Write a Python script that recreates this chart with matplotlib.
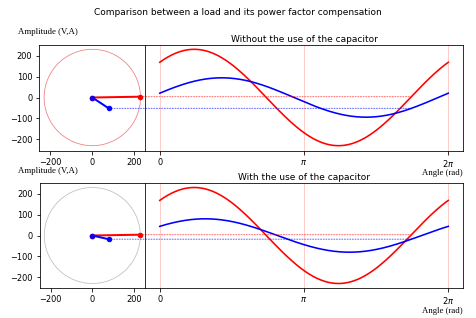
import numpy as np
import matplotlib
matplotlib.use("Agg")
import matplotlib.pyplot as plt
from matplotlib.patches import Circle, ConnectionPatch

# ---- data ----
titles = ["Without the use of the capacitor", "With the use of the capacitor"]
circle_colors = ["lightcoral", "silver"]
voltage_amp = [230, 230]          # V
voltage_phase = [0.82, 0.82]      # rad
current_amp = [94, 80]            # A
current_phase = [0.22, 0.58]      # rad
t_now = 5.48                      # current angle (rad)
xtick_vals = [0, np.pi, 2 * np.pi]
xtick_labels = ["0", r"$\pi$", r"$2\pi$"]
lim = 253

plt.rcParams["font.size"] = 8.3
fig = plt.figure(figsize=(476 / 72, 318 / 72), dpi=72)
fig.suptitle("Comparison between a load and its power factor compensation", fontsize=9, y=0.975)

W, H = 476, 318
rows = [(44.5, 150.5), (182.7, 288.3)]
theta = np.linspace(0, 2 * np.pi, 400)
serif = "Liberation Serif"

for r, (ytop, ybot) in enumerate(rows):
    b = 1 - ybot / H
    h = (ybot - ytop) / H
    axl = fig.add_axes([39.3 / W, b, (145.3 - 39.3) / W, h])
    axr = fig.add_axes([145.3 / W, b, (462.7 - 145.3) / W, h], sharey=axl)

    Va, Vp = voltage_amp[r], voltage_phase[r]
    Ia, Ip = current_amp[r], current_phase[r]

    # phasor diagram
    axl.add_patch(Circle((0, 0), Va, fill=False, color=circle_colors[r], lw=0.8))
    vx, vy = Va * np.cos(t_now + Vp), Va * np.sin(t_now + Vp)
    ix, iy = Ia * np.cos(t_now + Ip), Ia * np.sin(t_now + Ip)
    axl.plot([0, vx], [0, vy], color="red", lw=2, marker="o", ms=4.5)
    axl.plot([0, ix], [0, iy], color="blue", lw=2, marker="o", ms=4.5)
    axl.set_xlim(-lim, lim)
    axl.set_ylim(-lim, lim)
    axl.set_aspect("equal", adjustable="box")
    axl.set_xticks([-200, 0, 200])
    axl.set_yticks([-200, -100, 0, 100, 200])
    axl.set_ylabel("Amplitude (V,A)", family=serif, fontsize=8.7, rotation=0, ha="left", va="center")
    axl.yaxis.set_label_coords(-0.2, 1.115)

    # waveforms
    axr.plot(theta, Va * np.sin(theta + Vp), color="red", lw=1.6)
    axr.plot(theta, Ia * np.sin(theta + Ip), color="blue", lw=1.6)
    axr.set_xticks(xtick_vals)
    axr.set_xticklabels(xtick_labels)
    axr.grid(axis="x", color="red", alpha=0.25, lw=0.8)
    axr.tick_params(axis="y", left=False, labelleft=False)
    axr.set_title(titles[r], fontsize=9, pad=3)
    axr.set_xlabel("Angle (rad)", family=serif, fontsize=8.7, loc="right", labelpad=0.5)

    # projection lines
    for (px, py), f, col in [((vx, vy), Va * np.sin(t_now + Vp), "red"),
                             ((ix, iy), Ia * np.sin(t_now + Ip), "blue")]:
        con = ConnectionPatch(xyA=(px, py), coordsA=axl.transData,
                              xyB=(t_now, f), coordsB=axr.transData,
                              color=col, ls=":", lw=1, alpha=0.6)
        fig.add_artist(con)

fig.savefig("out.png", dpi=72)
